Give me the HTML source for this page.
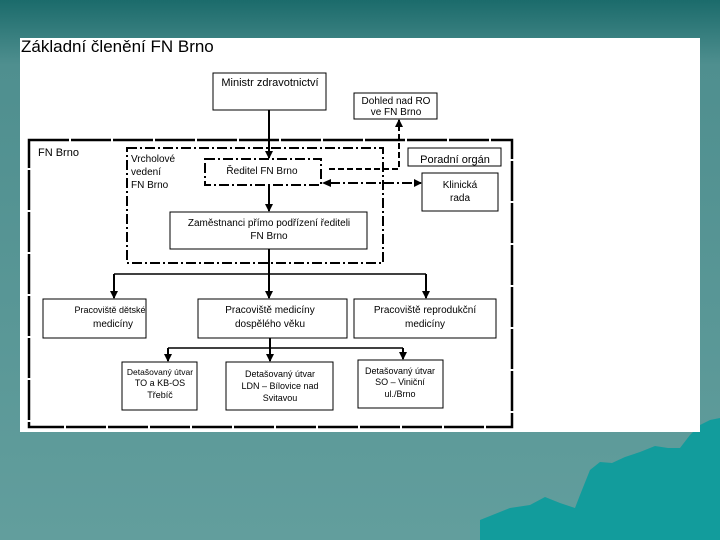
<!DOCTYPE html>
<html><head><meta charset="utf-8"><style>
body{margin:0;width:720px;height:540px;overflow:hidden;font-family:"Liberation Sans",sans-serif}
</style></head><body>
<svg width="720" height="540" xmlns="http://www.w3.org/2000/svg" font-family="Liberation Sans, sans-serif">
<defs>
<linearGradient id="bg" x1="0" y1="0" x2="0" y2="1">
<stop offset="0" stop-color="#1b6b6b"/><stop offset="0.12" stop-color="#4f8f8f"/><stop offset="1" stop-color="#629e9d"/>
</linearGradient>
<marker id="a" markerWidth="8" markerHeight="8" refX="7" refY="4" orient="auto" markerUnits="userSpaceOnUse"><path d="M0,0 L8,4 L0,8z" fill="#000"/></marker>
</defs>
<rect width="720" height="540" fill="url(#bg)"/>
<path d="M480,520 L510,508 L530,505 L545,497 L560,503 L575,508 L580,495 L590,470 L600,462 L612,463 L625,457 L640,452 L655,446 L668,448 L680,448 L690,435 L700,425 L710,420 L720,418 L720,540 L480,540z" fill="#129c9c"/>
<rect x="20" y="38" width="680" height="394" fill="#fff"/>
<text x="21" y="52" font-size="17">Základní členění FN Brno</text>
<g fill="none" stroke="#000">
<rect x="213" y="73" width="113" height="37" stroke-width="1"/>
<rect x="354" y="93" width="83" height="26"/>
<rect x="29" y="140" width="483" height="287" stroke-width="2.5" stroke-dasharray="40,2"/>
<rect x="127" y="148" width="256" height="115" stroke-width="2" stroke-dasharray="10,3,2,3"/>
<rect x="205" y="159" width="116" height="26" stroke-width="2" stroke-dasharray="10,3,2,3"/>
<rect x="408" y="148" width="93" height="18"/>
<rect x="422" y="173" width="76" height="38"/>
<rect x="170" y="212" width="197" height="37"/>
<rect x="43" y="299" width="103" height="39"/>
<rect x="198" y="299" width="149" height="39"/>
<rect x="354" y="299" width="142" height="39"/>
<rect x="122" y="362" width="75" height="48"/>
<rect x="226" y="362" width="107" height="48"/>
<rect x="358" y="360" width="85" height="48"/>
<g stroke-width="2">
<line x1="269" y1="110" x2="269" y2="158" marker-end="url(#a)"/>
<line x1="269" y1="185" x2="269" y2="211" marker-end="url(#a)"/>
<line x1="269" y1="249" x2="269" y2="298" marker-end="url(#a)"/>
<line x1="114" y1="274" x2="114" y2="298" marker-end="url(#a)"/>
<line x1="426" y1="274" x2="426" y2="298" marker-end="url(#a)"/>
<line x1="270" y1="338" x2="270" y2="361" marker-end="url(#a)"/>
<line x1="168" y1="348" x2="168" y2="361" marker-end="url(#a)"/>
<line x1="403" y1="348" x2="403" y2="359" marker-end="url(#a)"/>
<polyline points="329,169 399,169 399,120" stroke-dasharray="6,3" marker-end="url(#a)"/>
<line x1="330" y1="183" x2="421" y2="183" stroke-dasharray="10,3,2,3" marker-end="url(#a)"/>
</g>
<path d="M322,183 L331,179 L331,187z" fill="#000" stroke="none"/>
<line x1="114" y1="274" x2="426" y2="274" stroke-width="1.5"/>
<line x1="168" y1="348" x2="403" y2="348" stroke-width="1.5"/>
</g>
<g font-size="10" text-anchor="middle" fill="#000">
<text x="270" y="86" font-size="11">Ministr zdravotnictví</text>
<text x="396" y="104">Dohled nad RO</text><text x="396" y="115">ve FN Brno</text>
<text x="262" y="174">Ředitel FN Brno</text>
<text x="455" y="163" font-size="11">Poradní orgán</text>
<text x="460" y="188">Klinická</text><text x="460" y="201">rada</text>
<text x="269" y="226">Zaměstnanci přímo podřízení řediteli</text><text x="269" y="239">FN Brno</text>
<text x="110" y="313" font-size="9">Pracoviště dětské</text><text x="113" y="327">medicíny</text>
<text x="270" y="313">Pracoviště medicíny</text><text x="270" y="327">dospělého věku</text>
<text x="425" y="313">Pracoviště reprodukční</text><text x="425" y="327">medicíny</text>
<g font-size="9">
<text x="160" y="375" font-size="8.5">Detašovaný útvar</text><text x="160" y="386">TO a KB-OS</text><text x="160" y="398">Třebíč</text>
<text x="280" y="377">Detašovaný útvar</text><text x="280" y="389">LDN – Bílovice nad</text><text x="280" y="401">Svitavou</text>
<text x="400" y="374">Detašovaný útvar</text><text x="400" y="385">SO – Viniční</text><text x="400" y="397">ul./Brno</text>
</g>
</g>
<g font-size="10" fill="#000">
<text x="38" y="156" font-size="11">FN Brno</text>
<text x="131" y="162">Vrcholové</text><text x="131" y="175">vedení</text><text x="131" y="188">FN Brno</text>
</g>
</svg>
</body></html>
